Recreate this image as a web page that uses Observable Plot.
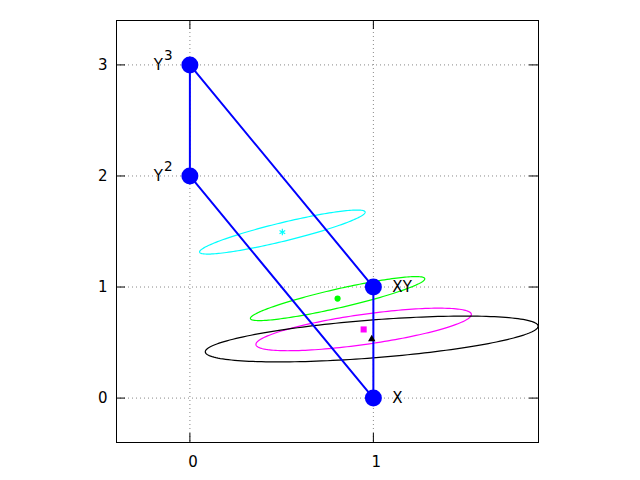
<!DOCTYPE html>
<html><head><meta charset="utf-8">
<script src="https://cdn.jsdelivr.net/npm/d3@7"></script>
<script src="https://cdn.jsdelivr.net/npm/@observablehq/plot@0.6"></script>
<style>body{margin:0;background:#fff}</style>
</head><body><div id="chart"></div>
<script>
// Axis ticks
const xTicks = [0, 1];
const yTicks = [0, 1, 2, 3];

// Polygon vertices
const vertexNames = ["Y", "Y", "X", "XY"];
const vertexSups = ["3", "2", "", ""];
const vertexX = [0, 0, 1, 1];
const vertexY = [3, 2, 0, 1];
const pathOrder = [0, 1, 2, 3, 0];

// Ellipses: centre, major and minor (conjugate) half-axis vectors in data units
const ellipseNames = ["cyan", "green", "magenta", "black"];
const centerX = [0.504, 0.805, 0.947, 0.991];
const centerY = [1.495, 0.896, 0.618, 0.532];
const majorX = [0.451, 0.475, 0.587, 0.907];
const majorY = [0.181, 0.180, 0.137, 0.117];
const minorX = [0.012, 0.0116, 0.0115, 0.0081];
const minorY = [-0.081, -0.0827, -0.134, -0.170];

// styles
const colorOf = {cyan: "#00ffff", green: "#00ff00", magenta: "#ff00ff", black: "#000000"};
const symbolOf = {cyan: "asterisk", green: "circle", magenta: "square", black: "triangle"};
const radiusOf = {cyan: 3.3, green: 3.3, magenta: 4.1, black: 2.6};

const vertices = vertexNames.map((n, i) => ({name: n, sup: vertexSups[i], x: vertexX[i], y: vertexY[i]}));
const polygon = pathOrder.map(i => vertices[i]);
const centers = ellipseNames.map((n, i) => ({name: n, x: centerX[i], y: centerY[i]}));
const outlines = ellipseNames.flatMap((n, i) =>
  d3.range(0, 361, 2).map(deg => {
    const t = deg * Math.PI / 180;
    return {
      name: n,
      x: centerX[i] + majorX[i] * Math.cos(t) + minorX[i] * Math.sin(t),
      y: centerY[i] + majorY[i] * Math.cos(t) + minorY[i] * Math.sin(t)
    };
  })
);

const W = 640, H = 480, mL = 116, mR = 102, mT = 20, mB = 38;
const pW = W - mL - mR, pH = H - mT - mB, tick = 9;

const chart = Plot.plot({
  width: W, height: H,
  marginLeft: mL, marginRight: mR, marginTop: mT, marginBottom: mB,
  style: {fontFamily: "DejaVu Sans", fontSize: "15px", background: "#fff", color: "#000"},
  x: {domain: [-0.4, 1.9], axis: null},
  y: {domain: [-0.4, 3.4], axis: null},
  marks: [
    Plot.gridX(xTicks, {stroke: "#888", strokeOpacity: 1, strokeDasharray: "1,3"}),
    Plot.gridY(yTicks, {stroke: "#888", strokeOpacity: 1, strokeDasharray: "1,3"}),
    Plot.tickX(xTicks, {x: d => d, insetTop: pH - tick, stroke: "#000"}),
    Plot.tickX(xTicks, {x: d => d, insetBottom: pH - tick, stroke: "#000"}),
    Plot.tickY(yTicks, {y: d => d, insetRight: pW - tick, stroke: "#000"}),
    Plot.tickY(yTicks, {y: d => d, insetLeft: pW - tick, stroke: "#000"}),
    Plot.axisX(xTicks, {tickSize: 0, tickPadding: 14, dx: 3, fontSize: 15, label: null, tickFormat: d => String(d)}),
    Plot.axisY(yTicks, {tickSize: 0, tickPadding: 9, fontSize: 15, label: null, tickFormat: d => String(d)}),
    Plot.line(outlines, {x: "x", y: "y", z: "name", stroke: d => colorOf[d.name], strokeWidth: 1.2, curve: "linear"}),
    Plot.line(polygon, {x: "x", y: "y", stroke: "#0000ff", strokeWidth: 2}),
    Plot.dot(vertices, {x: "x", y: "y", r: 8.5, fill: "#0000ff"}),
    Plot.dot(centers, {x: "x", y: "y", symbol: d => symbolOf[d.name], r: d => radiusOf[d.name],
      fill: d => d.name === "cyan" ? "none" : colorOf[d.name],
      stroke: d => d.name === "cyan" ? colorOf[d.name] : "none", strokeWidth: 1.2}),
    Plot.text(vertices.filter(d => d.x === 0), {x: "x", y: "y", text: "name", textAnchor: "end", dx: -27, fontSize: 15, fill: "#000"}),
    Plot.text(vertices.filter(d => d.x === 0), {x: "x", y: "y", text: "sup", textAnchor: "start", dx: -26, dy: -9.5, fontSize: 13.5, fill: "#000"}),
    Plot.text(vertices.filter(d => d.x === 1), {x: "x", y: "y", text: "name", textAnchor: "start", dx: 19, fontSize: 15, fill: "#000"}),
    Plot.frame({stroke: "#000"})
  ]
});
document.getElementById("chart").appendChild(chart);
</script>
</body></html>
